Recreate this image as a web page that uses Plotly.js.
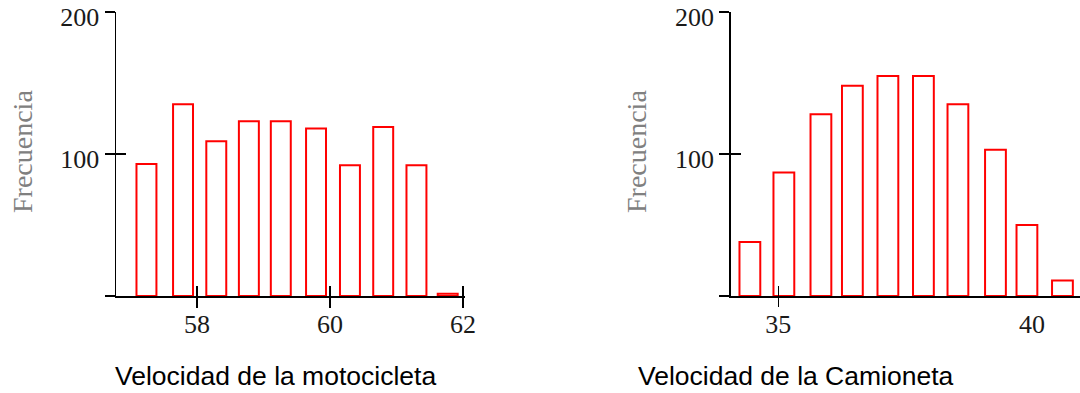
<!DOCTYPE html>
<html><head><meta charset="utf-8">
<script src="https://cdn.plot.ly/plotly-3.0.1.min.js"></script>
<style>html,body{margin:0;padding:0;background:#fff}#chart{width:1080px;height:393px}</style>
</head><body><div id="chart"></div>
<script>
// Data
const motoCenters = [57.24, 57.79, 58.29, 58.78, 59.26, 59.79, 60.30, 60.80, 61.30, 61.77];
const motoFreq    = [93, 135, 109, 123, 123, 118, 92, 119, 92, 1.6];
const camCenters  = [34.44, 35.11, 35.84, 36.46, 37.16, 37.86, 38.54, 39.28, 39.90, 40.60];
const camFreq     = [38, 87, 128, 148, 155, 155, 135, 103, 50, 11];
const motoTicks   = [58, 60, 62];
const camTicks    = [35, 40];
const camTickMarks = [35];
const yTicks      = [0, 100, 200];
const yTickText   = ['', '100', '200'];
const yTickMarks  = [100, 200];
const yTitle      = 'Frecuencia';
const motoTitle   = 'Velocidad de la motocicleta';
const camTitle    = 'Velocidad de la Camioneta';

const W = 1080, H = 393;
const px = v => v / W;
const py = v => 1 - v / H;

const tickFont = {family: 'Liberation Serif, Times New Roman, serif', size: 26, color: '#1a1a1a'};
const lineCol = '#000';
const LW = 1.5;

const barStyle = {color: 'rgba(255,255,255,0)', line: {color: '#ff0000', width: 2}};

const traces = [
  {type: 'bar', x: motoCenters, y: motoFreq, width: 0.3, marker: barStyle, xaxis: 'x', yaxis: 'y', hoverinfo: 'x+y'},
  {type: 'bar', x: camCenters, y: camFreq, width: 0.41, marker: barStyle, xaxis: 'x3', yaxis: 'y3', hoverinfo: 'x+y'},
  // helpers so overlay axes (inner half of crossing ticks) get drawn
  {type: 'scatter', x: [], y: [], xaxis: 'x2', yaxis: 'y', hoverinfo: 'skip'},
  {type: 'scatter', x: [], y: [], xaxis: 'x', yaxis: 'y2', hoverinfo: 'skip'},
  {type: 'scatter', x: [], y: [], xaxis: 'x4', yaxis: 'y3', hoverinfo: 'skip'},
  {type: 'scatter', x: [], y: [], xaxis: 'x5', yaxis: 'y3', hoverinfo: 'skip'},
  {type: 'scatter', x: [], y: [], xaxis: 'x3', yaxis: 'y4', hoverinfo: 'skip'}
];

const yDomain = [py(296), py(12)];
const motoRange = [56.782, 62.03];
const camRange = [34.062, 40.946];

const baseX = {showgrid: false, zeroline: false, fixedrange: true};

const xLabelCommon = {tickfont: tickFont, ticklabelstandoff: -6};
const yLabelCommon = {tickfont: tickFont, ticklabelshift: 5, ticklabeloverflow: 'allow'};

const layout = {
  width: W, height: H,
  margin: {l: 0, r: 0, t: 0, b: 0, pad: 0},
  paper_bgcolor: '#fff', plot_bgcolor: 'rgba(0,0,0,0)',
  showlegend: false,
  barmode: 'overlay',
  xaxis: Object.assign({}, baseX, xLabelCommon, {
    domain: [px(116), px(465)], range: motoRange, anchor: 'y',
    tickmode: 'array', tickvals: motoTicks, ticks: 'outside', ticklen: 10, tickwidth: LW, tickcolor: lineCol,
    showline: true, linecolor: lineCol, linewidth: LW
  }),
  xaxis2: Object.assign({}, baseX, {
    overlaying: 'x', range: motoRange, anchor: 'y',
    tickmode: 'array', tickvals: motoTicks, ticks: 'inside', ticklen: 10, tickwidth: LW, tickcolor: lineCol,
    showticklabels: false, showline: false
  }),
  yaxis: Object.assign({}, baseX, yLabelCommon, {
    domain: yDomain, range: [0, 200], anchor: 'x',
    tickmode: 'array', tickvals: yTicks, ticktext: yTickText, ticks: 'outside', ticklen: 10, tickwidth: LW, tickcolor: lineCol,
    showline: true, linecolor: lineCol, linewidth: LW
  }),
  yaxis2: Object.assign({}, baseX, {
    overlaying: 'y', range: [0, 200], anchor: 'x',
    tickmode: 'array', tickvals: yTickMarks, ticks: 'inside', ticklen: 10, tickwidth: LW, tickcolor: lineCol,
    showticklabels: false, showline: false
  }),
  xaxis3: Object.assign({}, baseX, xLabelCommon, {
    domain: [px(730.7), 1], range: camRange, anchor: 'y3',
    tickmode: 'array', tickvals: camTicks, ticks: 'outside', ticklen: 10, tickwidth: 0, tickcolor: 'rgba(0,0,0,0)',
    showline: true, linecolor: lineCol, linewidth: LW
  }),
  xaxis4: Object.assign({}, baseX, {
    overlaying: 'x3', range: camRange, anchor: 'y3',
    tickmode: 'array', tickvals: camTickMarks, ticks: 'outside', ticklen: 10, tickwidth: LW, tickcolor: lineCol,
    showticklabels: false, showline: false
  }),
  xaxis5: Object.assign({}, baseX, {
    overlaying: 'x3', range: camRange, anchor: 'y3',
    tickmode: 'array', tickvals: camTickMarks, ticks: 'inside', ticklen: 10, tickwidth: LW, tickcolor: lineCol,
    showticklabels: false, showline: false
  }),
  yaxis3: Object.assign({}, baseX, yLabelCommon, {
    domain: yDomain, range: [0, 200], anchor: 'x3',
    tickmode: 'array', tickvals: yTicks, ticktext: yTickText, ticks: 'outside', ticklen: 10, tickwidth: LW, tickcolor: lineCol,
    showline: true, linecolor: lineCol, linewidth: LW
  }),
  yaxis4: Object.assign({}, baseX, {
    overlaying: 'y3', range: [0, 200], anchor: 'x3',
    tickmode: 'array', tickvals: yTickMarks, ticks: 'inside', ticklen: 10, tickwidth: LW, tickcolor: lineCol,
    showticklabels: false, showline: false
  }),
  annotations: [
    {text: yTitle, xref: 'paper', yref: 'paper', x: px(22), y: py(152), textangle: -90, showarrow: false,
     xanchor: 'center', yanchor: 'middle', font: {family: 'Liberation Serif, Times New Roman, serif', size: 28, color: '#808080'}},
    {text: yTitle, xref: 'paper', yref: 'paper', x: px(636), y: py(152), textangle: -90, showarrow: false,
     xanchor: 'center', yanchor: 'middle', font: {family: 'Liberation Serif, Times New Roman, serif', size: 28, color: '#808080'}},
    {text: motoTitle, xref: 'paper', yref: 'paper', x: px(275), y: py(376), showarrow: false,
     xanchor: 'center', yanchor: 'middle', font: {family: 'Liberation Sans, Arial, sans-serif', size: 26.5, color: '#000'}},
    {text: camTitle, xref: 'paper', yref: 'paper', x: px(796), y: py(376), showarrow: false,
     xanchor: 'center', yanchor: 'middle', font: {family: 'Liberation Sans, Arial, sans-serif', size: 26.5, color: '#000'}}
  ]
};

Plotly.newPlot('chart', traces, layout, {displayModeBar: false, staticPlot: true});
</script>
</body></html>
